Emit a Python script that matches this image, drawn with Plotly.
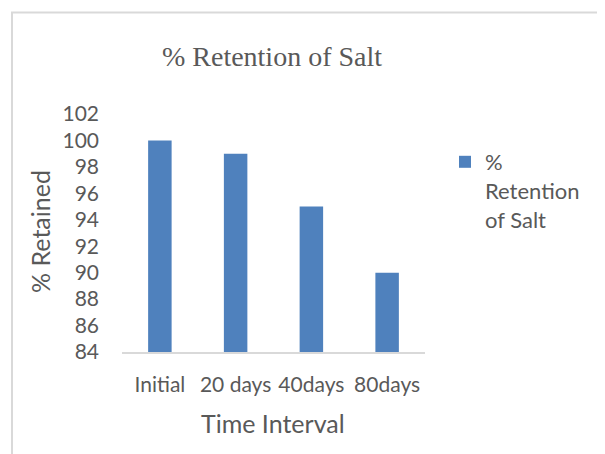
import plotly.graph_objects as go

categories = ["Initial", "20 days", "40days", "80days"]
retained = [100, 99, 95, 90]
series_name = "%<br>Retention<br>of Salt"
y_ticks = [84, 86, 88, 90, 92, 94, 96, 98, 100, 102]

W, H = 605, 454
OFF = 8  # page body margin
L, T = 122 - OFF, 114 - OFF
R, B = W - (425 - OFF), H - (352 - OFF)
pw, ph = W - L - R, H - T - B

def px_x(x):
    return (x - OFF - L) / pw

def px_y(y):
    return (H - B - (y - OFF)) / ph

txt = "#595959"
font_sans = "Lato, 'Open Sans', sans-serif"

fig = go.Figure()
fig.add_trace(go.Bar(
    x=categories, y=retained, name=series_name,
    marker=dict(color="#4f81bd", line=dict(width=0)),
    showlegend=True,
))

fig.update_layout(
    width=W, height=H,
    margin=dict(l=L, r=R, t=T, b=B),
    paper_bgcolor="white", plot_bgcolor="white",
    bargap=0.69,
    title=dict(text="% Retention of Salt", x=(272 - OFF) / W, xanchor="center",
               y=1 - (56 - OFF) / H, yanchor="middle", yref="container",
               font=dict(family="'Liberation Serif', 'DejaVu Serif', serif", size=28, color=txt)),
    xaxis=dict(showline=True, linecolor="#d9d9d9", linewidth=1.5,
               showgrid=False, ticks="", ticklabelstandoff=13,
               tickfont=dict(family=font_sans, size=21, color=txt)),
    yaxis=dict(range=[84, 102], tickvals=y_ticks, showgrid=False, showline=False,
               zeroline=False, ticks="", ticklabelstandoff=22,
               tickfont=dict(family=font_sans, size=21, color=txt)),
    legend=dict(x=px_x(445), y=px_y(141), xanchor="left", yanchor="top",
                font=dict(family=font_sans, size=22, color=txt),
                valign="top", itemwidth=30, bgcolor="rgba(0,0,0,0)"),
    annotations=[
        dict(text="% Retained", xref="paper", yref="paper", x=px_x(40), y=px_y(232),
             xanchor="center", yanchor="middle", textangle=-90, showarrow=False,
             font=dict(family=font_sans, size=25, color=txt)),
        dict(text="Time Interval", xref="paper", yref="paper", x=px_x(273), y=px_y(423),
             xanchor="center", yanchor="middle", showarrow=False,
             font=dict(family=font_sans, size=25, color=txt)),
    ],
    shapes=[
        dict(type="path", xref="paper", yref="paper",
             path=f"M {px_x(12)},{px_y(470)} L {px_x(12)},{px_y(12.5)} L {px_x(630)},{px_y(12.5)}",
             line=dict(color="#d9d9d9", width=2)),
    ],
)

fig.write_html("out.html")
